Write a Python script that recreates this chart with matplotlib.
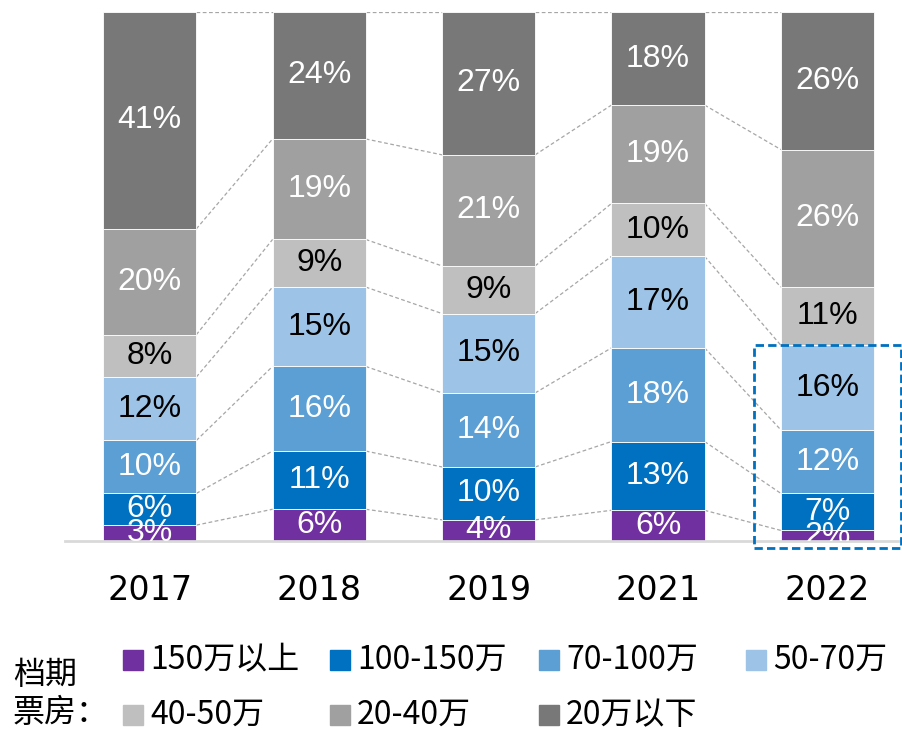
import numpy as np
import matplotlib
matplotlib.use("Agg")
import matplotlib.pyplot as plt
from matplotlib.patches import Rectangle

# years on the x axis
years = ["2017", "2018", "2019", "2021", "2022"]

# box-office bands, bottom of the stack first
bands = ["150万以上", "100-150万", "70-100万", "50-70万", "40-50万", "20-40万", "20万以下"]
band_colors = ["#7030A0", "#0070C0", "#5B9FD5", "#9DC3E6", "#BFBFBF", "#A0A0A0", "#787878"]
label_colors = ["white", "white", "white", "black", "black", "white", "white"]

# shares (%) per band, one value per year
share_150_up = [3, 6, 4, 5.8, 2]
share_100_150 = [6, 11, 10, 13.0, 7]
share_70_100 = [10, 16, 14, 17.7, 12]
share_50_70 = [12, 15, 15, 17.3, 16]
share_40_50 = [8, 9, 9, 10.0, 11]
share_20_40 = [20, 19, 21, 18.6, 26]
share_20_down = [41, 24, 27, 17.6, 26]

shares = np.array([share_150_up, share_100_150, share_70_100, share_50_70,
                   share_40_50, share_20_40, share_20_down], dtype=float)

W, H = 902, 730
fig = plt.figure(figsize=(W / 100, H / 100), dpi=100)
ax = fig.add_axes([65 / W, (H - 541) / H, (W - 65) / W, 529 / H])

x = np.arange(len(years))
bar_w = 0.55
bottoms = np.zeros(len(years))
tops = [bottoms.copy()]
for k, band in enumerate(bands):
    ax.bar(x, shares[k], bar_w, bottom=bottoms, color=band_colors[k],
           edgecolor="white", linewidth=0.6, zorder=2)
    for i in range(len(years)):
        ax.text(x[i], bottoms[i] + shares[k][i] / 2, f"{shares[k][i]:.0f}%",
                ha="center", va="center", color=label_colors[k],
                fontsize=23, family="Liberation Sans", clip_on=True, zorder=3)
    bottoms = bottoms + shares[k]
    tops.append(bottoms.copy())

# dashed connectors between neighbouring bars at each segment boundary
for level in tops[1:]:
    for i in range(len(years) - 1):
        ax.plot([x[i] + bar_w / 2, x[i + 1] - bar_w / 2], [level[i], level[i + 1]],
                color="#A6A6A6", lw=0.9, ls=(0, (3, 2)), zorder=1)

# highlight box around the lower part of 2022
box_top = tops[4][-1]
ax.add_patch(Rectangle((3.568, -1.3), 0.868, box_top + 1.3, fill=False,
                       edgecolor="#0070C0", lw=2, ls=(0, (3, 1.5)),
                       clip_on=False, zorder=4))

ax.set_xlim(-0.5, 4.44)
ax.set_ylim(0, 100)
ax.set_yticks([])
ax.set_xticks(x)
ax.set_xticklabels(years, fontsize=24, family="DejaVu Sans")
ax.tick_params(axis="x", length=0, pad=24)
for side in ["top", "right", "left"]:
    ax.spines[side].set_visible(False)
ax.spines["bottom"].set_color("#D9D9D9")
ax.spines["bottom"].set_linewidth(2)

# legend drawn by hand in figure pixels
cjk = ["Noto Sans CJK SC", "DejaVu Sans"]
col_x = [123, 330, 539, 746]
row_y = [660, 715]
for k, band in enumerate(bands):
    cx = col_x[k % 4]
    cy = row_y[k // 4]
    fig.add_artist(Rectangle((cx / W, (H - cy - 10) / H), 20 / W, 20 / H,
                             transform=fig.transFigure, color=band_colors[k]))
    fig.text((cx + 27) / W, (H - cy) / H, band, fontsize=23, family=cjk,
             ha="left", va="center")
fig.text(13 / W, (H - 675) / H, "档期", fontsize=23, family=cjk, ha="left", va="center")
fig.text(13 / W, (H - 713) / H, "票房：", fontsize=23, family=cjk, ha="left", va="center")

fig.savefig("out.png", dpi=100)
